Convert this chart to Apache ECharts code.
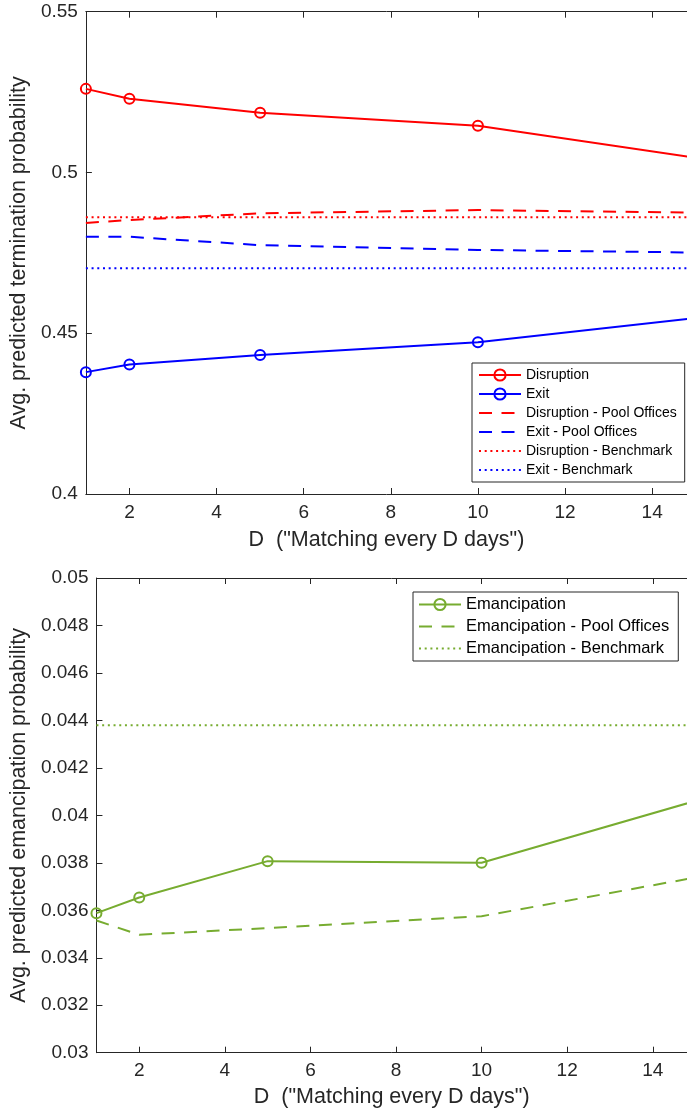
<!DOCTYPE html>
<html>
<head>
<meta charset="utf-8">
<script src="https://cdn.jsdelivr.net/npm/echarts@6/dist/echarts.min.js"></script>
<style>
html, body { margin: 0; padding: 0; background: #fff; }
#main { width: 687px; height: 1113px; }
</style>
</head>
<body>
<div id="main"></div>
<script>
// matching frequency D (days)
var days = [1, 2, 5, 10, 15];
var xTicks = [2, 4, 6, 8, 10, 12, 14];

// top panel: termination probability
var disruption      = [0.5260, 0.5229, 0.5186, 0.5145, 0.5046];
var exitP           = [0.4379, 0.4403, 0.4432, 0.4472, 0.4547];
var disruptionPool  = [0.4843, 0.4852, 0.4873, 0.4883, 0.4875];
var exitPool        = [0.4800, 0.4800, 0.4774, 0.4759, 0.4751];
var disruptionBench = [0.4861, 0.4861, 0.4861, 0.4861, 0.4861];
var exitBench       = [0.4702, 0.4702, 0.4702, 0.4702, 0.4702];
var topTicks = [0.4, 0.45, 0.5, 0.55];

// bottom panel: emancipation probability
var emancipation      = [0.03588, 0.03654, 0.03807, 0.03800, 0.04061];
var emancipationPool  = [0.03557, 0.03497, 0.03525, 0.03575, 0.03738];
var emancipationBench = [0.0438, 0.0438, 0.0438, 0.0438, 0.0438];
var botTicks = [0.03, 0.032, 0.034, 0.036, 0.038, 0.04, 0.042, 0.044, 0.046, 0.048, 0.05];

var RED = '#ff0000', BLUE = '#0000ff', GREEN = '#77ac30';
var FONT = '"Liberation Sans", Arial, sans-serif';
var AX = '#262626';
var DASH = [13, 9.5], DOT = [2, 3.7];

function pairs(ys) {
    return days.map(function (d, i) { return [d, ys[i]]; });
}

function xAx(grid, pos, showLabel, gap) {
    return {
        type: 'value', gridIndex: grid, position: pos,
        min: 1, max: 14.8,
        name: showLabel ? 'D  ("Matching every D days")' : '',
        nameLocation: 'middle', nameGap: gap,
        nameTextStyle: { fontFamily: FONT, fontSize: 21.5, color: AX },
        axisLine: { show: true, onZero: false, lineStyle: { color: AX, width: 1 } },
        axisTick: { show: true, inside: true, length: 6, customValues: xTicks, lineStyle: { color: AX } },
        axisLabel: { show: showLabel, customValues: xTicks, fontFamily: FONT, fontSize: 19, color: AX, margin: 9 },
        splitLine: { show: false }
    };
}

function yAx(grid, min, max, ticks, name, gap) {
    return {
        type: 'value', gridIndex: grid, min: min, max: max,
        name: name, nameLocation: 'middle', nameGap: gap,
        nameTextStyle: { fontFamily: FONT, fontSize: 21.5, color: AX },
        axisLine: { show: true, lineStyle: { color: AX, width: 1 } },
        axisTick: { show: true, inside: true, length: 6, customValues: ticks, lineStyle: { color: AX } },
        axisLabel: { customValues: ticks, fontFamily: FONT, fontSize: 19, color: AX, margin: 8,
            formatter: function (v) { return String(+v.toFixed(4)); } },
        splitLine: { show: false }
    };
}

function line(name, data, color, type, marker, xi, yi) {
    return {
        name: name, type: 'line', xAxisIndex: xi, yAxisIndex: yi,
        data: pairs(data),
        symbol: marker ? 'circle' : 'none',
        symbolSize: 10,
        showSymbol: marker,
        itemStyle: { color: 'rgba(0,0,0,0)', borderColor: color, borderWidth: 2 },
        lineStyle: { color: color, width: 2, type: type },
        clip: true, animation: false, z: marker ? 3 : 2
    };
}

// legend entries; lines without markers get an invisible legend symbol
function legendItems(names, marked) {
    return names.map(function (n, i) {
        return marked[i] ? { name: n } : { name: n, itemStyle: { opacity: 0 } };
    });
}

var chart = echarts.init(document.getElementById('main'));
chart.setOption({
    animation: false,
    grid: [
        { left: 85.5, right: 0, top: 11.7, height: 482.3 },
        { left: 95.5, right: 0, top: 578, height: 474.7 }
    ],
    xAxis: [
        xAx(0, 'bottom', true, 35),
        xAx(0, 'top', false, 0),
        xAx(1, 'bottom', true, 33),
        xAx(1, 'top', false, 0)
    ],
    yAxis: [
        yAx(0, 0.4, 0.55, topTicks, 'Avg. predicted termination probability', 52),
        yAx(1, 0.03, 0.05, botTicks, 'Avg. predicted emancipation probability', 62)
    ],
    legend: [
        {
            orient: 'vertical', left: 472, top: 363,
            padding: [5, 8, 5, 6], itemGap: 5, itemWidth: 42, itemHeight: 14,
            backgroundColor: '#fff', borderColor: AX, borderWidth: 1, borderRadius: 0,
            textStyle: { fontFamily: FONT, fontSize: 14, color: '#000' },
            data: legendItems(['Disruption', 'Exit', 'Disruption - Pool Offices', 'Exit - Pool Offices',
                   'Disruption - Benchmark', 'Exit - Benchmark'], [1, 1, 0, 0, 0, 0])
        },
        {
            orient: 'vertical', left: 413, top: 592,
            padding: [4, 9, 4, 5], itemGap: 5, itemWidth: 42, itemHeight: 14,
            backgroundColor: '#fff', borderColor: AX, borderWidth: 1, borderRadius: 0,
            textStyle: { fontFamily: FONT, fontSize: 16.5, color: '#000' },
            data: legendItems(['Emancipation', 'Emancipation - Pool Offices', 'Emancipation - Benchmark'], [1, 0, 0])
        }
    ],
    series: [
        line('Disruption', disruption, RED, 'solid', true, 0, 0),
        line('Exit', exitP, BLUE, 'solid', true, 0, 0),
        line('Disruption - Pool Offices', disruptionPool, RED, DASH, false, 0, 0),
        line('Exit - Pool Offices', exitPool, BLUE, DASH, false, 0, 0),
        line('Disruption - Benchmark', disruptionBench, RED, DOT, false, 0, 0),
        line('Exit - Benchmark', exitBench, BLUE, DOT, false, 0, 0),
        line('Emancipation', emancipation, GREEN, 'solid', true, 2, 1),
        line('Emancipation - Pool Offices', emancipationPool, GREEN, DASH, false, 2, 1),
        line('Emancipation - Benchmark', emancipationBench, GREEN, DOT, false, 2, 1)
    ]
});
</script>
</body>
</html>
